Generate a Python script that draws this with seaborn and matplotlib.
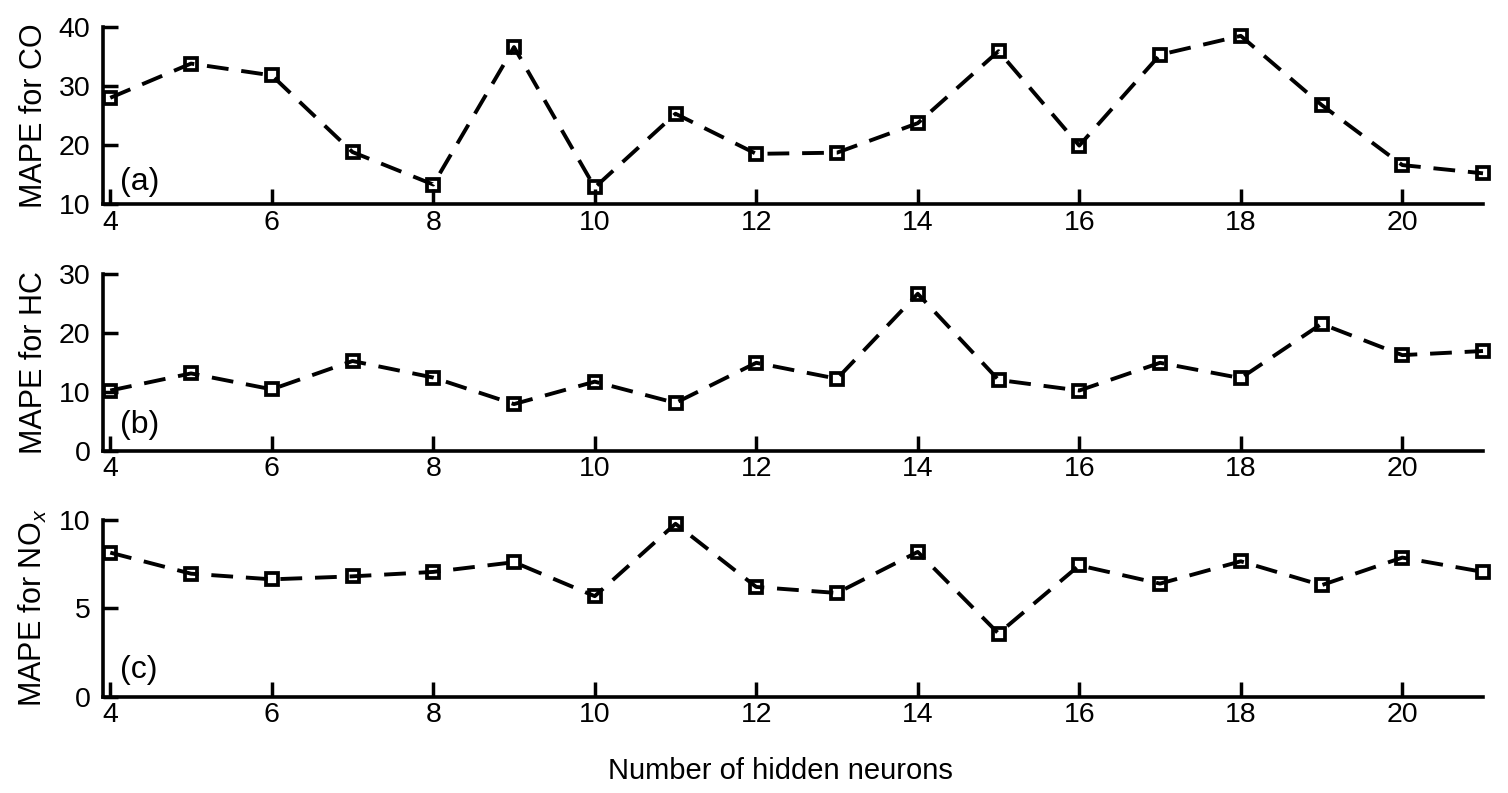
import pandas as pd
import matplotlib.pyplot as plt
import seaborn as sns

# Values
neurons = list(range(4, 22))
mape_co = [28.0, 33.8, 31.8, 18.8, 13.3, 36.6, 12.8, 25.3, 18.5,
           18.7, 23.7, 35.9, 19.9, 35.3, 38.5, 26.8, 16.6, 15.2]
mape_hc = [10.2, 13.1, 10.4, 15.2, 12.4, 7.9, 11.7, 8.1, 14.9,
           12.2, 26.6, 12.0, 10.2, 14.9, 12.3, 21.5, 16.2, 16.9]
mape_nox = [8.14, 6.95, 6.63, 6.8, 7.05, 7.6, 5.68, 9.77, 6.2,
            5.86, 8.18, 3.57, 7.42, 6.39, 7.65, 6.3, 7.86, 7.05]

panels = [
    ("MAPE for CO", mape_co, (10, 40), [10, 20, 30, 40], "(a)", 0.125),
    ("MAPE for HC", mape_hc, (0, 30), [0, 10, 20, 30], "(b)", 0.145),
    ("MAPE for NO$_x$", mape_nox, (0, 10), [0, 5, 10], "(c)", 0.15),
]

sns.set_theme(style="ticks")
plt.rcParams['font.family'] = ['Liberation Sans', 'DejaVu Sans']
plt.rcParams['mathtext.fontset'] = 'custom'
plt.rcParams['mathtext.rm'] = 'Liberation Sans'
plt.rcParams['mathtext.it'] = 'Liberation Sans:italic'
plt.rcParams['text.color'] = 'black'
plt.rcParams['axes.labelcolor'] = 'black'

fig = plt.figure(figsize=(15.08, 7.93), dpi=100)
left, width = 103 / 1508, 1380 / 1508
bottoms = [1 - 204 / 793, 1 - 450.7 / 793, 1 - 696.7 / 793]
height = 177 / 793

axes = []
for (ylabel, vals, ylim, yticks, tag, tag_y), bottom in zip(panels, bottoms):
    ax = fig.add_axes([left, bottom, width, height])
    df = pd.DataFrame({"neurons": neurons, "mape": vals})
    sns.lineplot(data=df, x="neurons", y="mape", ax=ax, color="black",
                 linewidth=2.8, linestyle=(0, (5.6, 3.3)), marker="s",
                 markersize=8.6, markerfacecolor="none",
                 markeredgecolor="black", markeredgewidth=2.7)
    for ln in ax.lines:
        ln.set_clip_on(False)

    ax.set_xlim(3.91, 21.0)
    ax.set_ylim(*ylim)
    ax.set_xticks(range(4, 21, 2))
    ax.set_yticks(yticks)
    ax.tick_params(axis="both", direction="in", length=10.8, width=2.5,
                   labelsize=20.5, colors="black")
    ax.tick_params(axis="x", pad=4)
    ax.tick_params(axis="y", pad=9)
    for side in ["top", "right"]:
        ax.spines[side].set_visible(False)
    for side in ["left", "bottom"]:
        ax.spines[side].set_linewidth(2.6)
        ax.spines[side].set_color("black")

    ax.set_ylabel(ylabel, fontsize=22)
    ax.yaxis.set_label_coords(-0.039, 0.5)
    ax.set_xlabel("")
    ax.text(0.012, tag_y, tag, transform=ax.transAxes, fontsize=23,
            ha="left", va="center")
    axes.append(ax)

axes[-1].set_xlabel("Number of hidden neurons", fontsize=21)
axes[-1].xaxis.set_label_coords(0.4906, -0.34)

fig.savefig("out.png", dpi=100, facecolor="white")
plt.close(fig)
